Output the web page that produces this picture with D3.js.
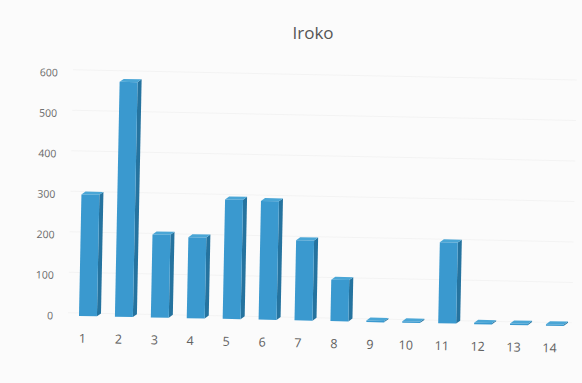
<!DOCTYPE html>
<html>
<head>
<meta charset="utf-8">
<script src="https://cdnjs.cloudflare.com/ajax/libs/d3/7.8.5/d3.min.js"></script>
<style>
  html, body { margin: 0; padding: 0; background: #fbfbfb; }
  svg { display: block; }
</style>
</head>
<body>
<svg id="chart" width="582" height="383"></svg>
<script>
// Iroko counts per plot number
const categories = ["1","2","3","4","5","6","7","8","9","10","11","12","13","14"];
const values = [300, 580, 205, 200, 295, 293, 198, 102, 3, 3, 200, 3, 3, 3];
const yTicks = [0, 100, 200, 300, 400, 500, 600];
const title = "Iroko";

const svg = d3.select("#chart");
const W = 582, H = 383;

svg.append("rect").attr("width", W).attr("height", H).attr("fill", "#fbfbfb");

svg.append("text")
  .attr("x", 313).attr("y", 39)
  .attr("text-anchor", "middle")
  .attr("font-family", "'Open Sans', sans-serif")
  .attr("font-size", 17)
  .attr("fill", "#555")
  .text(title);

// the chart body sits on a slightly tilted baseline
const g = svg.append("g").attr("transform", "rotate(1.15, 80, 316)");

const x = d3.scaleBand().domain(categories).range([70, 573]).paddingInner(0.5).paddingOuter(0.25);
const y = d3.scaleLinear().domain([0, 600]).range([316, 73]);

// faint gridlines
g.append("g").selectAll("line").data(yTicks).join("line")
  .attr("x1", 68).attr("x2", 572)
  .attr("y1", d => y(d) - 3).attr("y2", d => y(d) - 3)
  .attr("stroke", "#f3f3f3").attr("stroke-width", 1);

// value axis labels
const yAxis = d3.axisLeft(y).tickValues(yTicks).tickSize(0).tickPadding(0);
const ya = g.append("g").attr("transform", "translate(53,0)").call(yAxis);
ya.select(".domain").remove();
ya.selectAll("text")
  .attr("font-family", "'Open Sans', sans-serif")
  .attr("font-size", 10.5)
  .attr("fill", "#6a6a6a");

// category axis labels
const xAxis = d3.axisBottom(x).tickSize(0).tickPadding(0);
const xa = g.append("g").attr("transform", "translate(-5,334)").call(xAxis);
xa.select(".domain").remove();
xa.selectAll("text")
  .attr("font-family", "'Open Sans', sans-serif")
  .attr("font-size", 12.5)
  .attr("fill", "#606060");

// 3D columns: front face, right side, top
const dx = 4, dy = 3;
const bars = g.append("g").selectAll("g").data(categories).join("g");
bars.each(function(c, i) {
  const b = d3.select(this);
  const x0 = x(c), w = x.bandwidth();
  const yt = y(values[i]), yb = y(0);
  b.append("path")
    .attr("d", `M${x0 + w},${yt} L${x0 + w + dx},${yt - dy} L${x0 + w + dx},${yb - dy} L${x0 + w},${yb} Z`)
    .attr("fill", "#25739f");
  b.append("path")
    .attr("d", `M${x0},${yt} L${x0 + dx},${yt - dy} L${x0 + w + dx},${yt - dy} L${x0 + w},${yt} Z`)
    .attr("fill", "#4aa6d6");
  b.append("rect")
    .attr("x", x0).attr("y", yt)
    .attr("width", w).attr("height", Math.max(yb - yt, 1.5))
    .attr("fill", "#3a99cf");
});
</script>
</body>
</html>
